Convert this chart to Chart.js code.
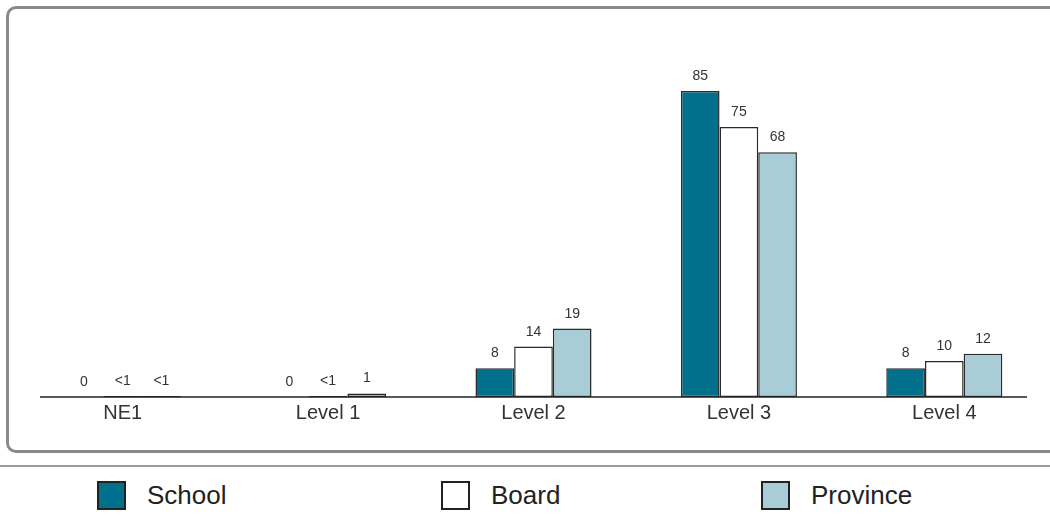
<!DOCTYPE html>
<html>
<head>
<meta charset="utf-8">
<script src="https://cdn.jsdelivr.net/npm/chart.js@4"></script>
<style>
  html, body { margin: 0; padding: 0; background: #fff; }
  body { width: 1050px; height: 515px; position: relative; overflow: hidden; font-family: "Liberation Sans", Arial, sans-serif; }
  #frame { position: absolute; left: 6px; top: 6px; width: 1100px; height: 441px; border: 3px solid #8a8a8a; border-radius: 10px; box-sizing: content-box; }
  #wrap { position: absolute; left: 0; top: 0; width: 1050px; height: 440px; }
  #sep { position: absolute; left: 0; top: 465px; width: 1050px; height: 2px; background: #9a9a9a; }
  .leg { position: absolute; top: 481px; height: 28px; display: flex; align-items: center; }
  .leg .sw { width: 25px; height: 25px; border: 2px solid #222; box-sizing: content-box; }
  .leg .tx { font-size: 26px; color: #222; margin-left: 21px; line-height: 28px; }
</style>
</head>
<body>
<div id="frame"></div>
<div id="wrap"><canvas id="c" width="1050" height="440"></canvas></div>
<div id="sep"></div>
<div id="legend"></div>
<script>
const categories = ["NE1", "Level 1", "Level 2", "Level 3", "Level 4"];
const seriesNames = ["School", "Board", "Province"];
const schoolData = [0, 0, 8, 85, 8];
const boardData = [0.3, 0.3, 14, 75, 10];
const provinceData = [0.3, 1, 19, 68, 12];
const schoolLabels = ["0", "0", "8", "85", "8"];
const boardLabels = ["<1", "<1", "14", "75", "10"];
const provinceLabels = ["<1", "1", "19", "68", "12"];
const seriesColors = ["#00708C", "#FFFFFF", "#A8CDD7"];
const legendLeft = [97, 441, 761];

const barLabelPlugin = {
  id: 'barLabels',
  afterDatasetsDraw(chart) {
    const ctx = chart.ctx;
    ctx.save();
    ctx.font = '14px "Liberation Sans", Arial, sans-serif';
    ctx.fillStyle = '#333';
    ctx.textAlign = 'center';
    ctx.textBaseline = 'alphabetic';
    chart.data.datasets.forEach((ds, di) => {
      const meta = chart.getDatasetMeta(di);
      meta.data.forEach((bar, i) => {
        ctx.fillText(ds.valueLabels[i], bar.x, bar.y - 11);
      });
    });
    ctx.restore();
  }
};

const axisLinePlugin = {
  id: 'axisLine',
  afterDatasetsDraw(chart) {
    const ctx = chart.ctx;
    const a = chart.chartArea;
    const y = chart.scales.y.getPixelForValue(0);
    ctx.save();
    ctx.strokeStyle = '#222';
    ctx.lineWidth = 1.5;
    ctx.beginPath();
    ctx.moveTo(a.left + 20, y);
    ctx.lineTo(a.right - 20, y);
    ctx.stroke();
    ctx.restore();
  }
};

new Chart(document.getElementById('c'), {
  type: 'bar',
  data: {
    labels: categories,
    datasets: [
      { label: seriesNames[0], data: schoolData, valueLabels: schoolLabels, backgroundColor: seriesColors[0] },
      { label: seriesNames[1], data: boardData, valueLabels: boardLabels, backgroundColor: seriesColors[1] },
      { label: seriesNames[2], data: provinceData, valueLabels: provinceLabels, backgroundColor: seriesColors[2] }
    ].map(d => Object.assign(d, { borderColor: '#2a2a2a', borderWidth: 1.5, borderSkipped: false, categoryPercentage: 0.565, barPercentage: 1 }))
  },
  options: {
    responsive: false,
    animation: false,
    layout: { padding: { left: 20, right: 3, top: 37, bottom: 0 } },
    plugins: { legend: { display: false }, tooltip: { enabled: false } },
    scales: {
      x: {
        grid: { display: false },
        border: { display: false },
        ticks: { color: '#333', font: { size: 20, family: '"Liberation Sans", Arial, sans-serif' }, padding: -4, maxRotation: 0 },
        afterFit(scale) { scale.height = 43; }
      },
      y: {
        display: false,
        min: 0,
        max: 100
      }
    }
  },
  plugins: [barLabelPlugin, axisLinePlugin]
});

const legend = document.getElementById('legend');
seriesNames.forEach((name, i) => {
  const item = document.createElement('div');
  item.className = 'leg';
  item.style.left = legendLeft[i] + 'px';
  const sw = document.createElement('div');
  sw.className = 'sw';
  sw.style.background = seriesColors[i];
  const tx = document.createElement('div');
  tx.className = 'tx';
  tx.textContent = name;
  item.appendChild(sw);
  item.appendChild(tx);
  legend.appendChild(item);
});
</script>
</body>
</html>
